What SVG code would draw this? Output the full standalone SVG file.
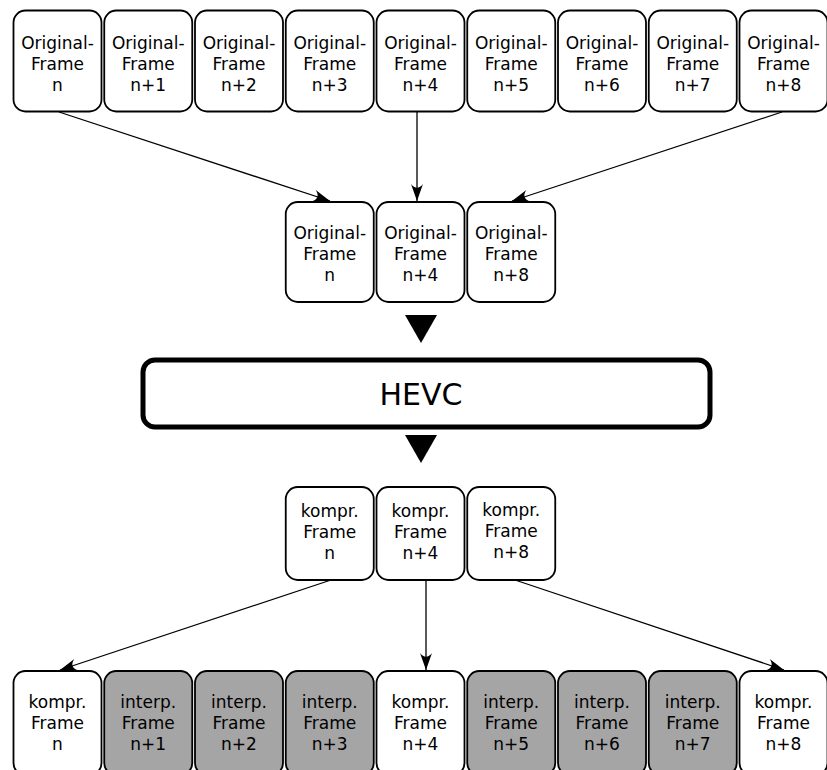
<svg xmlns="http://www.w3.org/2000/svg" width="827" height="770" viewBox="0 0 827 770">
<defs>
<style>
.box{fill:#ffffff;stroke:#000;stroke-width:1.8}
.gray{fill:#a5a5a5;stroke:#000;stroke-width:1.8}
.t{font-family:"DejaVu Sans","Liberation Sans",sans-serif;font-size:17px;fill:#000;text-anchor:middle}
.hevc{font-family:"DejaVu Sans","Liberation Sans",sans-serif;font-size:30px;fill:#000;text-anchor:middle}
.conn{fill:none;stroke:#000;stroke-width:1.3;marker-end:url(#ah)}
</style>
<marker id="ah" markerUnits="userSpaceOnUse" viewBox="-17 -7 18 14" markerWidth="18" markerHeight="14" refX="0" refY="0" orient="auto" overflow="visible">
<path d="M0,0 L-17,-6 C-12,-2 -12,2 -17,6 Z" fill="#000"/>
</marker>
</defs>
<rect width="827" height="770" fill="#fff"/>

<g id="top-row">
<g id="o0"><rect class="box" x="13.5" y="10.5" width="88" height="101" rx="12"/><text class="t"><tspan x="57.5" y="48.5">Original-</tspan><tspan x="57.5" y="69.5">Frame</tspan><tspan x="57.5" y="90.5">n</tspan></text></g>
<g id="o1"><rect class="box" x="104.25" y="10.5" width="88" height="101" rx="12"/><text class="t"><tspan x="148.25" y="48.5">Original-</tspan><tspan x="148.25" y="69.5">Frame</tspan><tspan x="148.25" y="90.5">n+1</tspan></text></g>
<g id="o2"><rect class="box" x="195" y="10.5" width="88" height="101" rx="12"/><text class="t"><tspan x="239" y="48.5">Original-</tspan><tspan x="239" y="69.5">Frame</tspan><tspan x="239" y="90.5">n+2</tspan></text></g>
<g id="o3"><rect class="box" x="285.75" y="10.5" width="88" height="101" rx="12"/><text class="t"><tspan x="329.75" y="48.5">Original-</tspan><tspan x="329.75" y="69.5">Frame</tspan><tspan x="329.75" y="90.5">n+3</tspan></text></g>
<g id="o4"><rect class="box" x="376.5" y="10.5" width="88" height="101" rx="12"/><text class="t"><tspan x="420.5" y="48.5">Original-</tspan><tspan x="420.5" y="69.5">Frame</tspan><tspan x="420.5" y="90.5">n+4</tspan></text></g>
<g id="o5"><rect class="box" x="467.25" y="10.5" width="88" height="101" rx="12"/><text class="t"><tspan x="511.25" y="48.5">Original-</tspan><tspan x="511.25" y="69.5">Frame</tspan><tspan x="511.25" y="90.5">n+5</tspan></text></g>
<g id="o6"><rect class="box" x="558" y="10.5" width="88" height="101" rx="12"/><text class="t"><tspan x="602" y="48.5">Original-</tspan><tspan x="602" y="69.5">Frame</tspan><tspan x="602" y="90.5">n+6</tspan></text></g>
<g id="o7"><rect class="box" x="648.75" y="10.5" width="88" height="101" rx="12"/><text class="t"><tspan x="692.75" y="48.5">Original-</tspan><tspan x="692.75" y="69.5">Frame</tspan><tspan x="692.75" y="90.5">n+7</tspan></text></g>
<g id="o8"><rect class="box" x="739.5" y="10.5" width="88" height="101" rx="12"/><text class="t"><tspan x="783.5" y="48.5">Original-</tspan><tspan x="783.5" y="69.5">Frame</tspan><tspan x="783.5" y="90.5">n+8</tspan></text></g>
</g>

<g id="mid-row">
<g id="m0"><rect class="box" x="285.75" y="202" width="88" height="100" rx="12"/><text class="t"><tspan x="329.75" y="239">Original-</tspan><tspan x="329.75" y="260">Frame</tspan><tspan x="329.75" y="281">n</tspan></text></g>
<g id="m4"><rect class="box" x="376.5" y="202" width="88" height="100" rx="12"/><text class="t"><tspan x="420.5" y="239">Original-</tspan><tspan x="420.5" y="260">Frame</tspan><tspan x="420.5" y="281">n+4</tspan></text></g>
<g id="m8"><rect class="box" x="467.25" y="202" width="88" height="100" rx="12"/><text class="t"><tspan x="511.25" y="239">Original-</tspan><tspan x="511.25" y="260">Frame</tspan><tspan x="511.25" y="281">n+8</tspan></text></g>
</g>

<g id="hevc">
<rect x="143" y="360" width="567" height="67" rx="12" fill="#fff" stroke="#000" stroke-width="5"/>
<text class="hevc" x="421" y="405">HEVC</text>
</g>

<g id="k-row">
<g id="k0"><rect class="box" x="285.75" y="487" width="88" height="93" rx="12"/><text class="t"><tspan x="329.75" y="517">kompr.</tspan><tspan x="329.75" y="538">Frame</tspan><tspan x="329.75" y="559">n</tspan></text></g>
<g id="k4"><rect class="box" x="376.5" y="487" width="88" height="93" rx="12"/><text class="t"><tspan x="420.5" y="517">kompr.</tspan><tspan x="420.5" y="538">Frame</tspan><tspan x="420.5" y="559">n+4</tspan></text></g>
<g id="k8"><rect class="box" x="467.25" y="487" width="88" height="93" rx="12"/><text class="t"><tspan x="511.25" y="516">kompr.</tspan><tspan x="511.25" y="537">Frame</tspan><tspan x="511.25" y="558">n+8</tspan></text></g>
</g>

<g id="bottom-row">
<g id="b0"><rect class="box" x="13.5" y="671" width="88" height="104" rx="12"/><text class="t"><tspan x="57.5" y="708">kompr.</tspan><tspan x="57.5" y="729">Frame</tspan><tspan x="57.5" y="750">n</tspan></text></g>
<g id="b1"><rect class="gray" x="104.25" y="671" width="88" height="104" rx="12"/><text class="t"><tspan x="148.25" y="708">interp.</tspan><tspan x="148.25" y="729">Frame</tspan><tspan x="148.25" y="750">n+1</tspan></text></g>
<g id="b2"><rect class="gray" x="195" y="671" width="88" height="104" rx="12"/><text class="t"><tspan x="239" y="708">interp.</tspan><tspan x="239" y="729">Frame</tspan><tspan x="239" y="750">n+2</tspan></text></g>
<g id="b3"><rect class="gray" x="285.75" y="671" width="88" height="104" rx="12"/><text class="t"><tspan x="329.75" y="708">interp.</tspan><tspan x="329.75" y="729">Frame</tspan><tspan x="329.75" y="750">n+3</tspan></text></g>
<g id="b4"><rect class="box" x="376.5" y="671" width="88" height="104" rx="12"/><text class="t"><tspan x="420.5" y="708">kompr.</tspan><tspan x="420.5" y="729">Frame</tspan><tspan x="420.5" y="750">n+4</tspan></text></g>
<g id="b5"><rect class="gray" x="467.25" y="671" width="88" height="104" rx="12"/><text class="t"><tspan x="511.25" y="708">interp.</tspan><tspan x="511.25" y="729">Frame</tspan><tspan x="511.25" y="750">n+5</tspan></text></g>
<g id="b6"><rect class="gray" x="558" y="671" width="88" height="104" rx="12"/><text class="t"><tspan x="602" y="708">interp.</tspan><tspan x="602" y="729">Frame</tspan><tspan x="602" y="750">n+6</tspan></text></g>
<g id="b7"><rect class="gray" x="648.75" y="671" width="88" height="104" rx="12"/><text class="t"><tspan x="692.75" y="708">interp.</tspan><tspan x="692.75" y="729">Frame</tspan><tspan x="692.75" y="750">n+7</tspan></text></g>
<g id="b8"><rect class="box" x="739.5" y="671" width="88" height="104" rx="12"/><text class="t"><tspan x="783.5" y="708">kompr.</tspan><tspan x="783.5" y="729">Frame</tspan><tspan x="783.5" y="750">n+8</tspan></text></g>
</g>

<g id="connectors">
<line class="conn" x1="59" y1="112" x2="330" y2="201"/>
<line class="conn" x1="417" y1="112" x2="417" y2="201"/>
<line class="conn" x1="782" y1="112" x2="512" y2="201"/>
<polygon points="405,315 437,315 421,343" fill="#000"/>
<polygon points="405,435 437,435 421,463" fill="#000"/>
<line class="conn" x1="331" y1="580" x2="60" y2="670"/>
<line class="conn" x1="426" y1="580" x2="426" y2="670"/>
<line class="conn" x1="515" y1="580" x2="784" y2="670"/>
</g>
</svg>
